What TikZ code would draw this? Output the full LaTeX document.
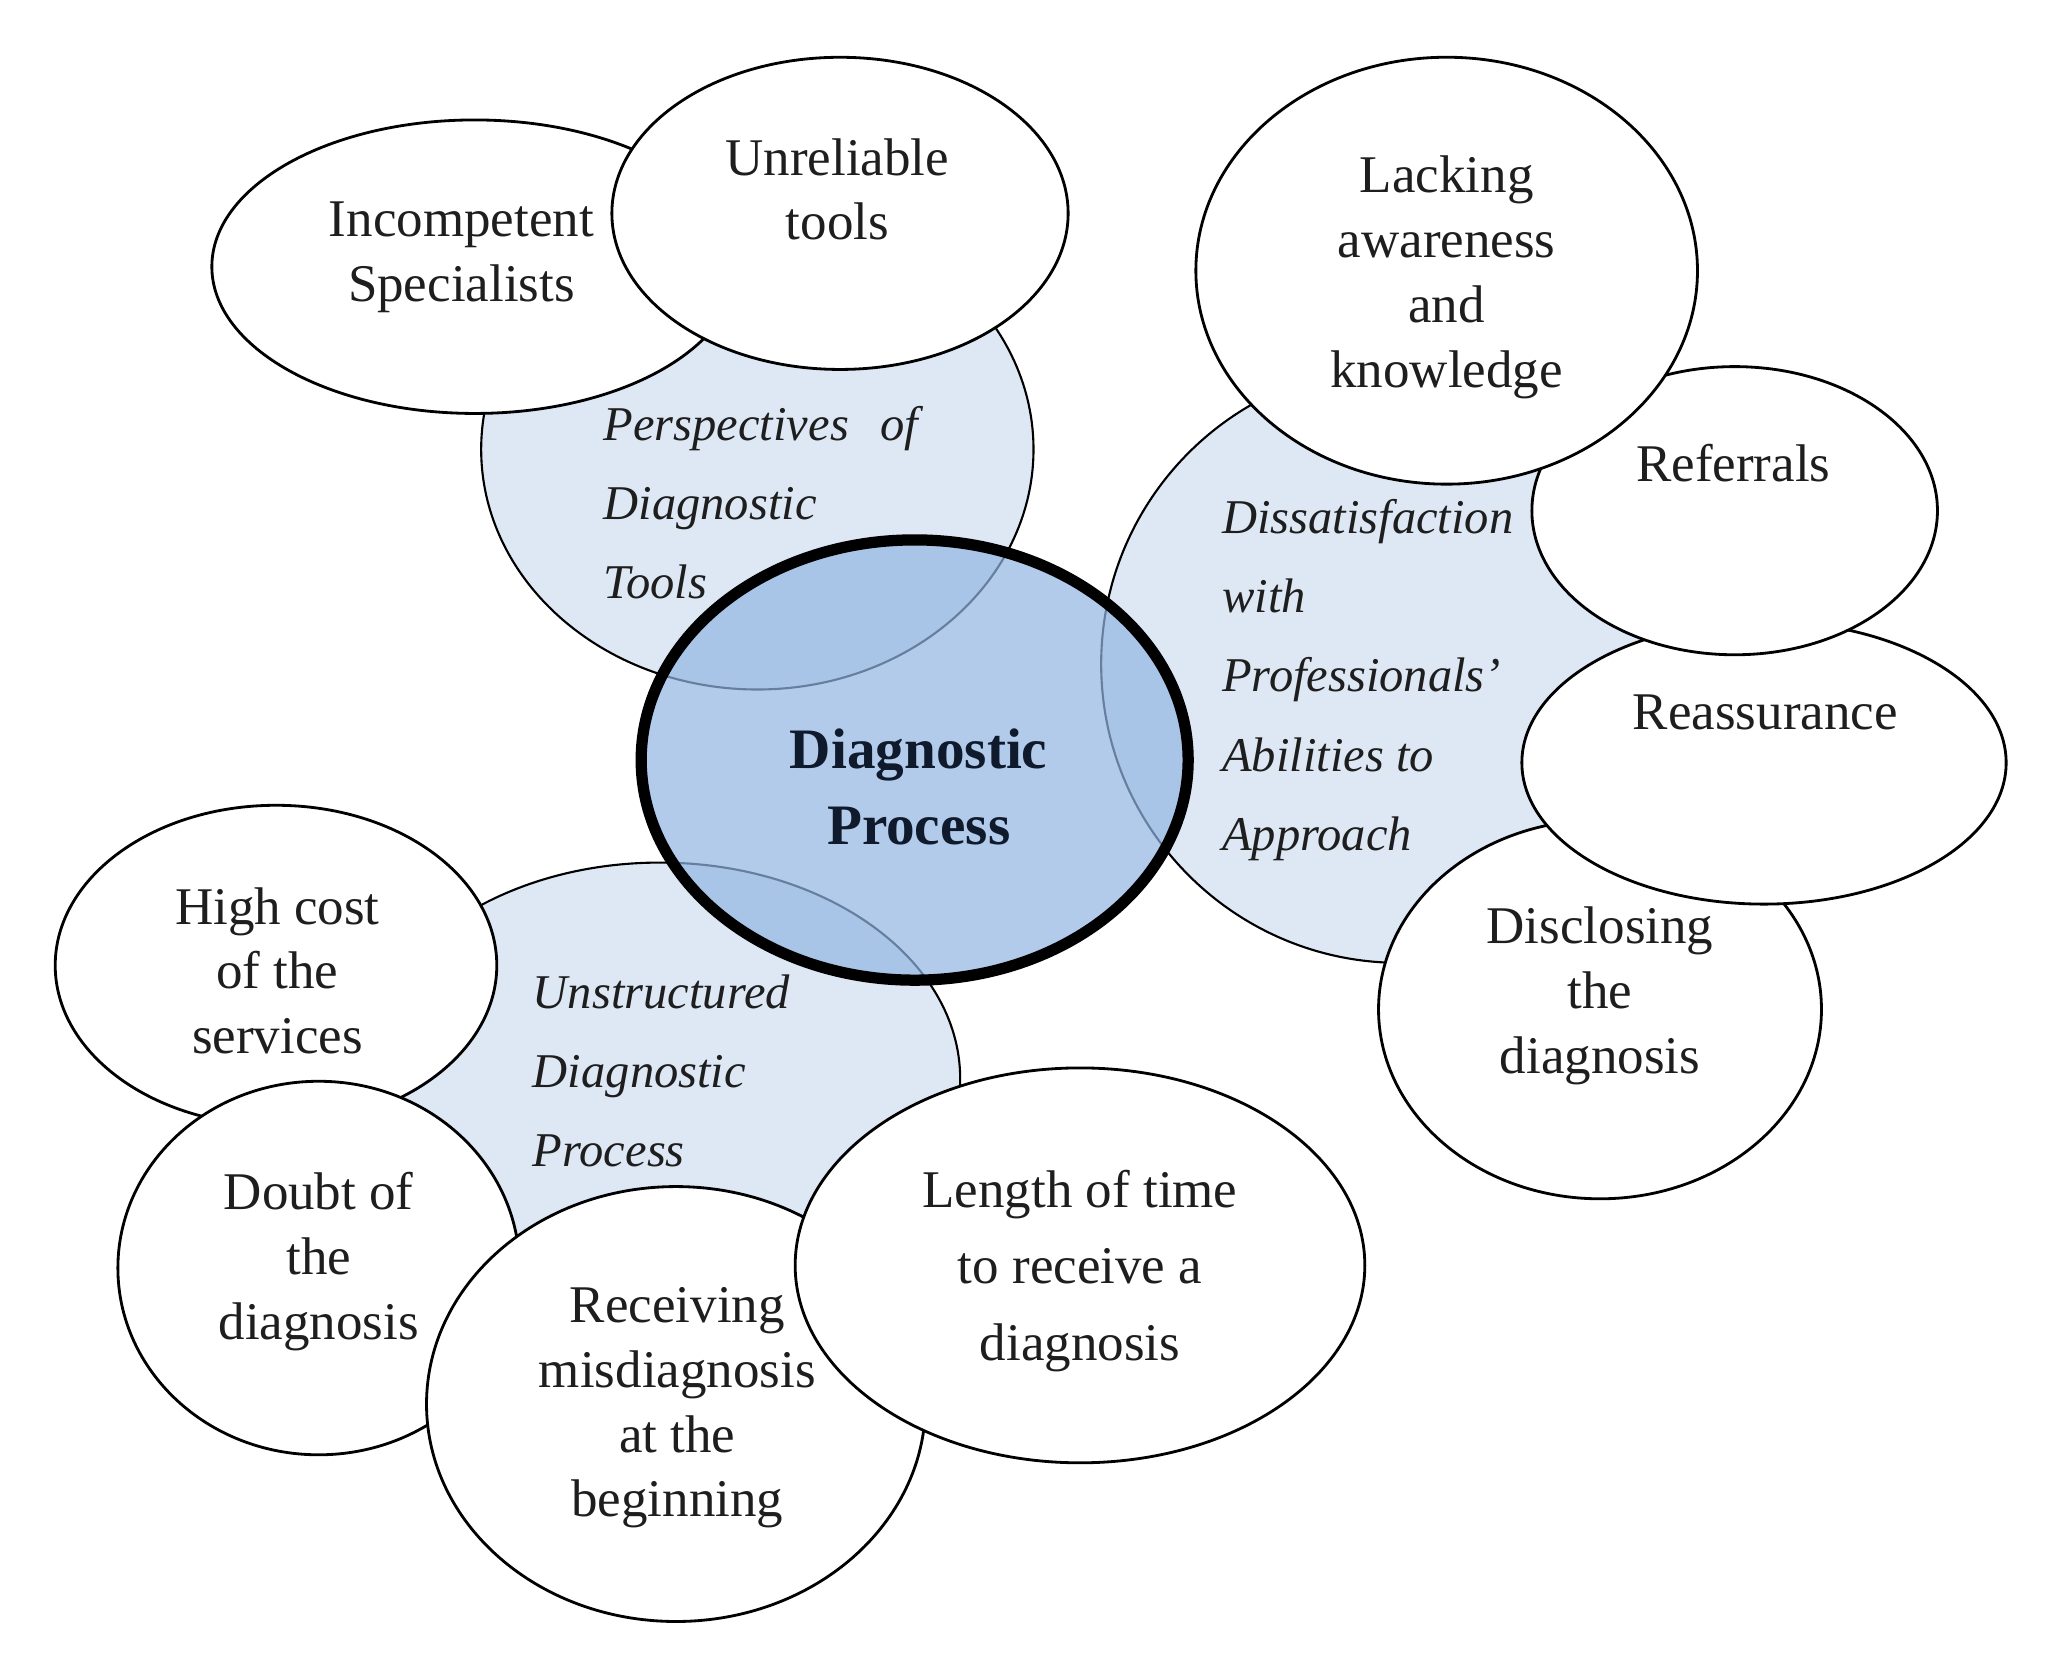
\documentclass[tikz,border=0pt]{standalone}
\usepackage{fontspec}
\setmainfont{Liberation Serif}
\usetikzlibrary{shapes.geometric}
\definecolor{lightblu}{HTML}{DEE8F5}
\definecolor{midblu}{HTML}{92B5E2}
\definecolor{txt}{HTML}{1E1E1E}
\definecolor{ctxt}{HTML}{0F1A2C}
\begin{document}
\begin{tikzpicture}[x=0.01cm,y=-0.01cm,
  bub/.style={ellipse, draw=black, line width=0.6pt, fill=white, inner sep=0pt},
  lbub/.style={ellipse, draw=black, line width=0.45pt, fill=lightblu, inner sep=0pt},
  cen/.style={ellipse, draw=black, line width=2.4pt, fill=midblu, fill opacity=0.7, draw opacity=1, inner sep=0pt},
  lab/.style={font=\fontsize{11.3}{13.8}\selectfont, text=txt, align=center, inner sep=0pt},
  ilab/.style={font=\fontsize{10.35}{16.9}\selectfont\itshape, text=txt, align=left, inner sep=0pt, anchor=west},
  clab/.style={font=\bfseries\fontsize{12.2}{16.2}\selectfont, text=ctxt, align=center, inner sep=0pt}]
\useasboundingbox (0,0) rectangle (1551,1256);
% light theme circles
\node[lbub, minimum width=4.14cm, minimum height=3.60cm] (persp) at (568,337) {};
\node[lbub, minimum width=4.48cm, minimum height=4.48cm] (dissat) at (1050,498) {};
\node[lbub, minimum width=4.50cm, minimum height=3.24cm] (unstr) at (495,809) {};
% centre
\node[cen, minimum width=4.10cm, minimum height=3.30cm] (centre) at (686,570) {};
% white bubbles
\node[bub, minimum width=3.94cm, minimum height=2.20cm] (incomp) at (356,200) {};
\node[bub, minimum width=3.42cm, minimum height=2.34cm] (unrel) at (630,160) {};
\node[bub, minimum width=3.32cm, minimum height=2.84cm] (discl) at (1200,757) {};
\node[bub, minimum width=3.63cm, minimum height=2.12cm] (reass) at (1323,572) {};
\node[bub, minimum width=3.04cm, minimum height=2.16cm] (refer) at (1301,383) {};
\node[bub, minimum width=3.76cm, minimum height=3.20cm] (lack) at (1085,203) {};
\node[bub, minimum width=3.31cm, minimum height=2.40cm] (cost) at (207,724) {};
\node[bub, minimum width=3.01cm, minimum height=2.80cm] (doubt) at (239,951) {};
\node[bub, minimum width=3.74cm, minimum height=3.26cm] (recv) at (507,1053) {};
\node[bub, minimum width=4.27cm, minimum height=2.96cm] (length) at (810,949) {};
% texts
\node[clab] (ctxt) at (689,590) {Diagnostic\\Process};
\node[ilab] (ptxt) at (452,377) {\makebox[2.36cm][l]{Perspectives\hfill of}\\Diagnostic\\Tools};
\node[ilab] (dtxt) at (916,510) {Dissatisfaction\\with\\Professionals’\\Abilities to\\Approach};
\node[ilab] (utxt) at (399,803) {Unstructured\\Diagnostic\\Process};
\node[lab] (t1) at (346,193) {Incompetent\\Specialists};
\node[lab] (t2) at (628,142) {Unreliable\\tools};
\node[lab] (t3) at (1085,208) {Lacking\\awareness\\and\\knowledge};
\node[lab] (t4) at (1300,347) {Referrals};
\node[lab] (t5) at (1324,534) {Reassurance};
\node[lab] (t6) at (1200,747) {Disclosing\\the\\diagnosis};
\node[lab] (t7) at (208,728) {High cost\\of the\\services};
\node[lab] (t8) at (239,946) {Doubt of\\the\\diagnosis};
\node[lab] (t9) at (508,1056) {Receiving\\misdiagnosis\\at the\\beginning};
\node[lab, font=\fontsize{11.3}{16.3}\selectfont] (t10) at (810,953) {Length of time\\to receive a\\diagnosis};
\end{tikzpicture}
\end{document}
